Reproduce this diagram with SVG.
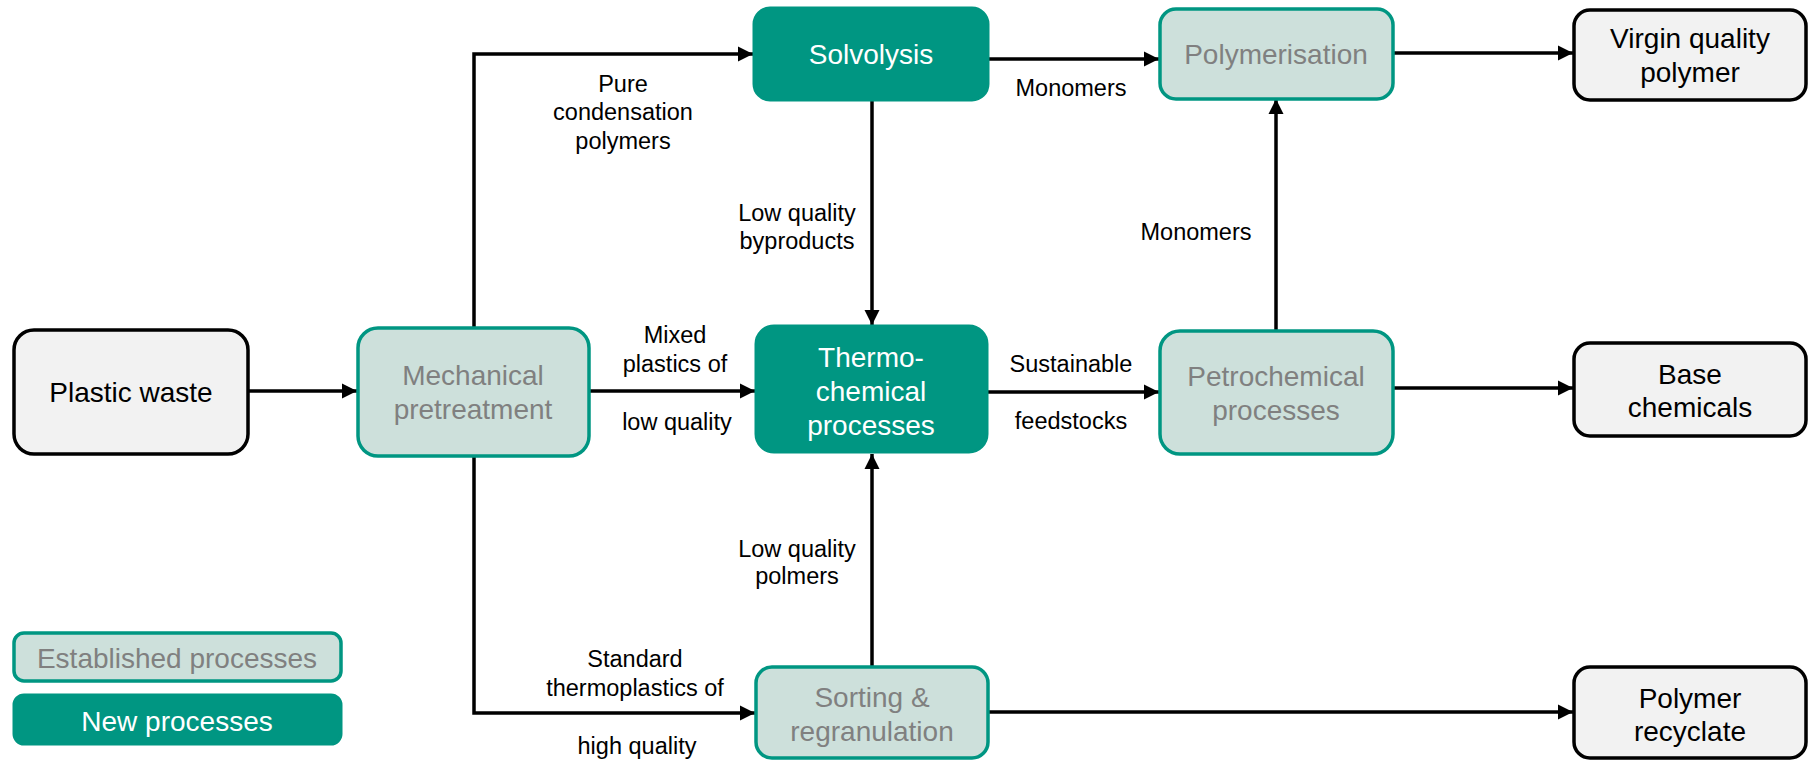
<svg xmlns="http://www.w3.org/2000/svg" width="1810" height="760" viewBox="0 0 1810 760">
<defs>
<style>
text{font-family:"Liberation Sans",Arial,sans-serif;dominant-baseline:central;text-anchor:middle}
.out rect{fill:#f2f2f2;stroke:#000;stroke-width:3.5}
.out text{fill:#000;font-size:28px}
.est rect{fill:#cde0db;stroke:#009682;stroke-width:3.5}
.est text{fill:#808080;font-size:28px}
.new rect{fill:#009682;stroke:#009682;stroke-width:3}
.new text{fill:#fff;font-size:28px}
.lbl{fill:#000;font-size:23.5px}
.conn{fill:none;stroke:#000;stroke-width:3.5}
</style>
<marker id="ah" viewBox="0 0 10 10" refX="10" refY="5" markerWidth="4.4" markerHeight="4.4" markerUnits="strokeWidth" orient="auto"><path d="M0,0 L10,5 L0,10 z" fill="#000"/></marker>
</defs>
<rect width="1810" height="760" fill="#fff"/>
<g id="connectors">
<path class="conn" d="M248,391 H357" marker-end="url(#ah)"/>
<path class="conn" d="M474,327 V54 H753" marker-end="url(#ah)"/>
<path class="conn" d="M474,457 V713 H755" marker-end="url(#ah)"/>
<path class="conn" d="M589,391 H755" marker-end="url(#ah)"/>
<path class="conn" d="M989,59 H1159" marker-end="url(#ah)"/>
<path class="conn" d="M872,100 V325" marker-end="url(#ah)"/>
<path class="conn" d="M872,667 V454" marker-end="url(#ah)"/>
<path class="conn" d="M987,392 H1159" marker-end="url(#ah)"/>
<path class="conn" d="M1276,330 V99" marker-end="url(#ah)"/>
<path class="conn" d="M1393,53 H1573" marker-end="url(#ah)"/>
<path class="conn" d="M1393,388 H1573" marker-end="url(#ah)"/>
<path class="conn" d="M988,712 H1573" marker-end="url(#ah)"/>
</g>
<g id="labels">
<text class="lbl" x="623" y="84">Pure</text>
<text class="lbl" x="623" y="112">condensation</text>
<text class="lbl" x="623" y="141">polymers</text>
<text class="lbl" x="797" y="213">Low quality</text>
<text class="lbl" x="797" y="241">byproducts</text>
<text class="lbl" x="1071" y="88">Monomers</text>
<text class="lbl" x="1196" y="232">Monomers</text>
<text class="lbl" x="675" y="335">Mixed</text>
<text class="lbl" x="675" y="364">plastics of</text>
<text class="lbl" x="677" y="422">low quality</text>
<text class="lbl" x="1071" y="364">Sustainable</text>
<text class="lbl" x="1071" y="421">feedstocks</text>
<text class="lbl" x="797" y="549">Low quality</text>
<text class="lbl" x="797" y="576">polmers</text>
<text class="lbl" x="635" y="659">Standard</text>
<text class="lbl" x="635" y="688">thermoplastics of</text>
<text class="lbl" x="637" y="746">high quality</text>
</g>
<g id="plastic-waste" class="out"><rect x="14" y="330" width="234" height="124" rx="20"/><text x="131" y="392">Plastic waste</text></g>
<g id="mechanical" class="est"><rect x="358" y="328" width="231" height="128" rx="20"/><text x="473" y="375">Mechanical</text><text x="473" y="409">pretreatment</text></g>
<g id="solvolysis" class="new"><rect x="754" y="8" width="234" height="92" rx="16"/><text x="871" y="54">Solvolysis</text></g>
<g id="thermo" class="new"><rect x="756" y="326" width="231" height="126" rx="18"/><text x="871" y="357">Thermo-</text><text x="871" y="391">chemical</text><text x="871" y="425">processes</text></g>
<g id="sorting" class="est"><rect x="756" y="667" width="232" height="91" rx="16"/><text x="872" y="697">Sorting &amp;</text><text x="872" y="731">regranulation</text></g>
<g id="polymerisation" class="est"><rect x="1160" y="9" width="233" height="90" rx="16"/><text x="1276" y="54">Polymerisation</text></g>
<g id="petrochemical" class="est"><rect x="1160" y="331" width="233" height="123" rx="20"/><text x="1276" y="376">Petrochemical</text><text x="1276" y="410">processes</text></g>
<g id="virgin" class="out"><rect x="1574" y="10" width="232" height="90" rx="16"/><text x="1690" y="38">Virgin quality</text><text x="1690" y="72">polymer</text></g>
<g id="base" class="out"><rect x="1574" y="343" width="232" height="93" rx="16"/><text x="1690" y="374">Base</text><text x="1690" y="407">chemicals</text></g>
<g id="recyclate" class="out"><rect x="1574" y="667" width="232" height="91" rx="16"/><text x="1690" y="698">Polymer</text><text x="1690" y="731">recyclate</text></g>
<g id="legend-established" class="est"><rect x="14" y="633" width="327" height="48" rx="10"/><text x="177" y="658">Established processes</text></g>
<g id="legend-new" class="new"><rect x="14" y="695" width="327" height="49" rx="10"/><text x="177" y="721">New processes</text></g>
</svg>
